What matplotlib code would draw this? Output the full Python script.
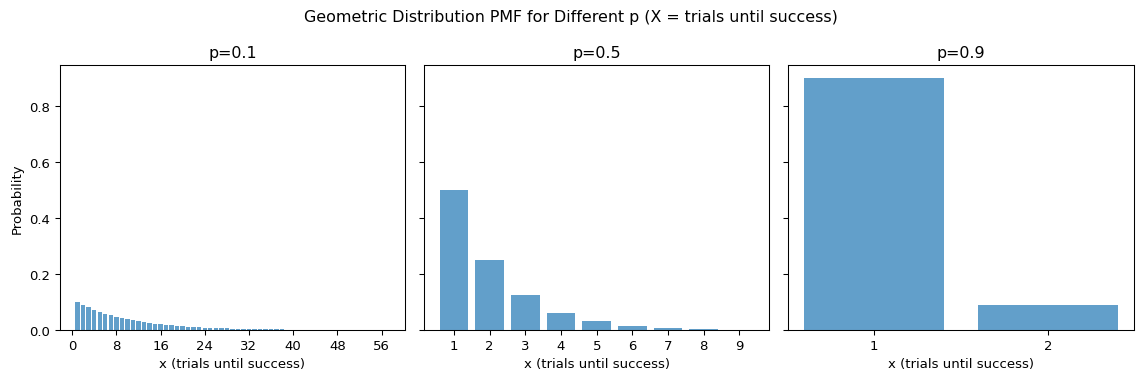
import numpy as np
import matplotlib
matplotlib.use("Agg")
import matplotlib.pyplot as plt

# geometric pmf values, P(X = k) for k = 1, 2, ...
ps = [0.1, 0.5, 0.9]
pmf_01 = [0.1, 0.09, 0.081, 0.0729, 0.06561, 0.05905, 0.05314, 0.04783, 0.04305, 0.03874,
          0.03487, 0.03138, 0.02824, 0.02542, 0.02288, 0.02059, 0.01853, 0.01668, 0.01501, 0.01351,
          0.01216, 0.01094, 0.009848, 0.008863, 0.007977, 0.007179, 0.006461, 0.005815, 0.005233, 0.00471,
          0.004239, 0.003815, 0.003434, 0.00309, 0.002781, 0.002503, 0.002253, 0.002028, 0.001825, 0.001642,
          0.001478, 0.00133, 0.001197, 0.001078, 0.00097, 0.000873, 0.000786, 0.000707, 0.000636, 0.000573,
          0.000515, 0.000464, 0.000417, 0.000376, 0.000338, 0.000304, 0.000274]
pmf_05 = [0.5, 0.25, 0.125, 0.0625, 0.03125, 0.01563, 0.00781, 0.00391, 0.00195]
pmf_09 = [0.9, 0.09]
pmfs = [pmf_01, pmf_05, pmf_09]

fig, axes = plt.subplots(1, 3, figsize=(12, 4), dpi=95.17, sharey=True)
for ax, p, pmf in zip(axes, ps, pmfs):
    x = np.arange(1, len(pmf) + 1)
    ax.bar(x, pmf, color="tab:blue", alpha=0.7)
    ax.set_title(f"p={p}")
    ax.set_xlabel("x (trials until success)")
    if len(pmf) > 20:
        ax.set_xticks(np.arange(0, 57, 8))
    else:
        ax.set_xticks(x)
axes[0].set_ylabel("Probability")
fig.suptitle("Geometric Distribution PMF for Different p (X = trials until success)", y=0.975)
fig.subplots_adjust(left=0.0523, right=0.9927, top=0.8268, bottom=0.1312, wspace=0.055)
plt.savefig("out.png")
